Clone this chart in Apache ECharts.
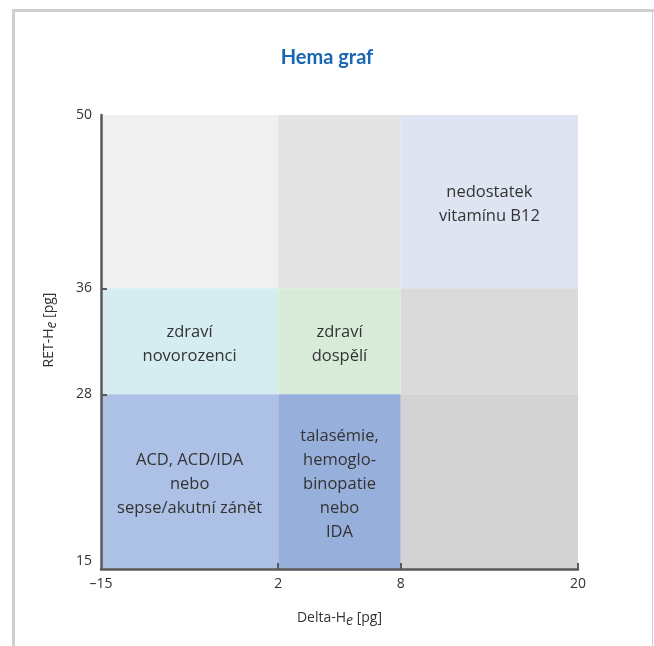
<!DOCTYPE html>
<html>
<head>
<meta charset="utf-8">
<script src="https://cdn.jsdelivr.net/npm/echarts@6/dist/echarts.min.js"></script>
<style>
html,body{margin:0;padding:0;background:#fff;}
#chart{width:654px;height:646px;}
</style>
</head>
<body>
<div id="chart"></div>
<script>
// ---- data ----
const titleText = 'Hema graf';
const xTicks = [-15, 2, 8, 20];
const yTicks = [15, 28, 36, 50];
// cells: [xFrom, xTo, yFrom, yTo]
const cellRanges = [
  [-15, 2, 36, 50],
  [2, 8, 36, 50],
  [8, 20, 36, 50],
  [-15, 2, 28, 36],
  [2, 8, 28, 36],
  [8, 20, 28, 36],
  [-15, 2, 15, 28],
  [2, 8, 15, 28],
  [8, 20, 15, 28]
];
const cellLabels = [
  '',
  '',
  'nedostatek\nvitamínu B12',
  'zdraví\nnovorozenci',
  'zdraví\ndospělí',
  '',
  'ACD, ACD/IDA\nnebo\nsepse/akutní zánět',
  'talasémie,\nhemoglo-\nbinopatie\nnebo\nIDA',
  ''
];
// ---- styles / layout ----
const cellColors = ['#f0f0f0','#e4e4e4','#dfe4f3','#d5edf1','#d8ebd9','#dadada','#adc0e5','#97afdb','#d3d3d3'];
const xStops = [0, 0.3715, 0.6285, 1];
const yStops = [0, 0.3848, 0.6183, 1];

function piece(v, ticks, stops) {
  for (let i = 0; i < ticks.length - 1; i++) {
    if (v <= ticks[i + 1] || i === ticks.length - 2) {
      const t = (v - ticks[i]) / (ticks[i + 1] - ticks[i]);
      return stops[i] + t * (stops[i + 1] - stops[i]);
    }
  }
}
const mx = v => piece(v, xTicks, xStops);
const my = v => piece(v, yTicks, yStops);
function nearestTick(val, ticks, f) {
  let best = ticks[0], d = 1e9;
  ticks.forEach(t => { const dd = Math.abs(f(t) - val); if (dd < d) { d = dd; best = t; } });
  return best;
}
const fmtNum = v => v < 0 ? '\u2013' + Math.abs(v) : String(v);
const FONT = '"Open Sans", "Noto Sans", sans-serif';
const TFONT = 'Lato, "Noto Sans", sans-serif';

const chart = echarts.init(document.getElementById('chart'), null, {renderer: 'canvas'});
const option = {
  backgroundColor: '#fff',
  animation: false,
  title: {
    text: titleText,
    left: 'center',
    top: 43,
    textStyle: {color: '#1767b3', fontSize: 20, fontWeight: 'bold', fontFamily: TFONT}
  },
  graphic: [
    {type: 'line', shape: {x1: 13.5, y1: 9, x2: 13.5, y2: 646}, style: {stroke: '#d0d0d0', lineWidth: 3}, silent: true},
    {type: 'line', shape: {x1: 12, y1: 10.5, x2: 654, y2: 10.5}, style: {stroke: '#d0d0d0', lineWidth: 3}, silent: true},
    {type: 'line', shape: {x1: 652.5, y1: 9, x2: 652.5, y2: 646}, style: {stroke: '#d0d0d0', lineWidth: 1}, silent: true}
  ],
  grid: {left: 101, right: 76, top: 115, bottom: 77, containLabel: false},
  xAxis: {
    type: 'value', min: 0, max: 1, z: 10,
    name: '{a|Delta-H}{e|e}{a| [pg]}',
    nameLocation: 'middle', nameGap: 39,
    nameTextStyle: {
      rich: {
        a: {fontSize: 14, color: '#333', fontFamily: FONT},
        e: {fontSize: 14, color: '#333', fontFamily: FONT, fontStyle: 'italic', padding: [6, 0, 0, 0]}
      }
    },
    axisLine: {show: true, lineStyle: {color: '#595959', width: 2.5}},
    axisTick: {show: true, inside: true, length: 6, lineStyle: {color: '#595959', width: 2},
      customValues: xTicks.slice(1).map(mx)},
    axisLabel: {
      customValues: xTicks.map(mx), margin: 8,
      color: '#333', fontSize: 14, fontFamily: FONT,
      formatter: v => fmtNum(nearestTick(v, xTicks, mx))
    },
    splitLine: {show: false}
  },
  yAxis: {
    type: 'value', min: 0, max: 1, z: 10,
    name: '{a|RET-H}{e|e}{a| [pg]}',
    nameLocation: 'middle', nameGap: 42, nameRotate: 90,
    nameTextStyle: {
      padding: [0, 0, 0, 24],
      rich: {
        a: {fontSize: 14, color: '#333', fontFamily: FONT},
        e: {fontSize: 14, color: '#333', fontFamily: FONT, fontStyle: 'italic', padding: [6, 0, 0, 0]}
      }
    },
    axisLine: {show: true, lineStyle: {color: '#595959', width: 2.5}},
    axisTick: {show: true, inside: true, length: 6, lineStyle: {color: '#595959', width: 2},
      customValues: yTicks.slice(1, -1).map(my)},
    axisLabel: {
      customValues: yTicks.map(my), margin: 9,
      color: '#333', fontSize: 14, fontFamily: FONT,
      formatter: v => {
        const t = nearestTick(v, yTicks, my);
        return t === yTicks[0] ? '{low|' + t + '}' : String(t);
      },
      rich: {low: {fontSize: 14, color: '#333', fontFamily: FONT, padding: [0, 0, 16, 0]}}
    },
    splitLine: {show: false}
  },
  series: [{
    type: 'custom',
    z: 1,
    data: cellRanges.map((r, i) => [r[0], r[1], r[2], r[3], i]),
    renderItem: function (params, api) {
      const i = api.value(4);
      const r = cellRanges[i];
      const p1 = api.coord([mx(r[0]), my(r[3])]);
      const p2 = api.coord([mx(r[1]), my(r[2])]);
      const children = [{
        type: 'rect',
        shape: {x: p1[0], y: p1[1], width: p2[0] - p1[0], height: p2[1] - p1[1]},
        style: {fill: cellColors[i]}
      }];
      if (cellLabels[i]) {
        children.push({
          type: 'text',
          style: {
            x: (p1[0] + p2[0]) / 2, y: (p1[1] + p2[1]) / 2 + 3,
            text: cellLabels[i], align: 'center', verticalAlign: 'middle',
            fill: '#333', fontSize: 16.5, lineHeight: 24, fontFamily: FONT
          }
        });
      }
      return {type: 'group', children: children};
    }
  }]
};
chart.setOption(option);
</script>
</body>
</html>
